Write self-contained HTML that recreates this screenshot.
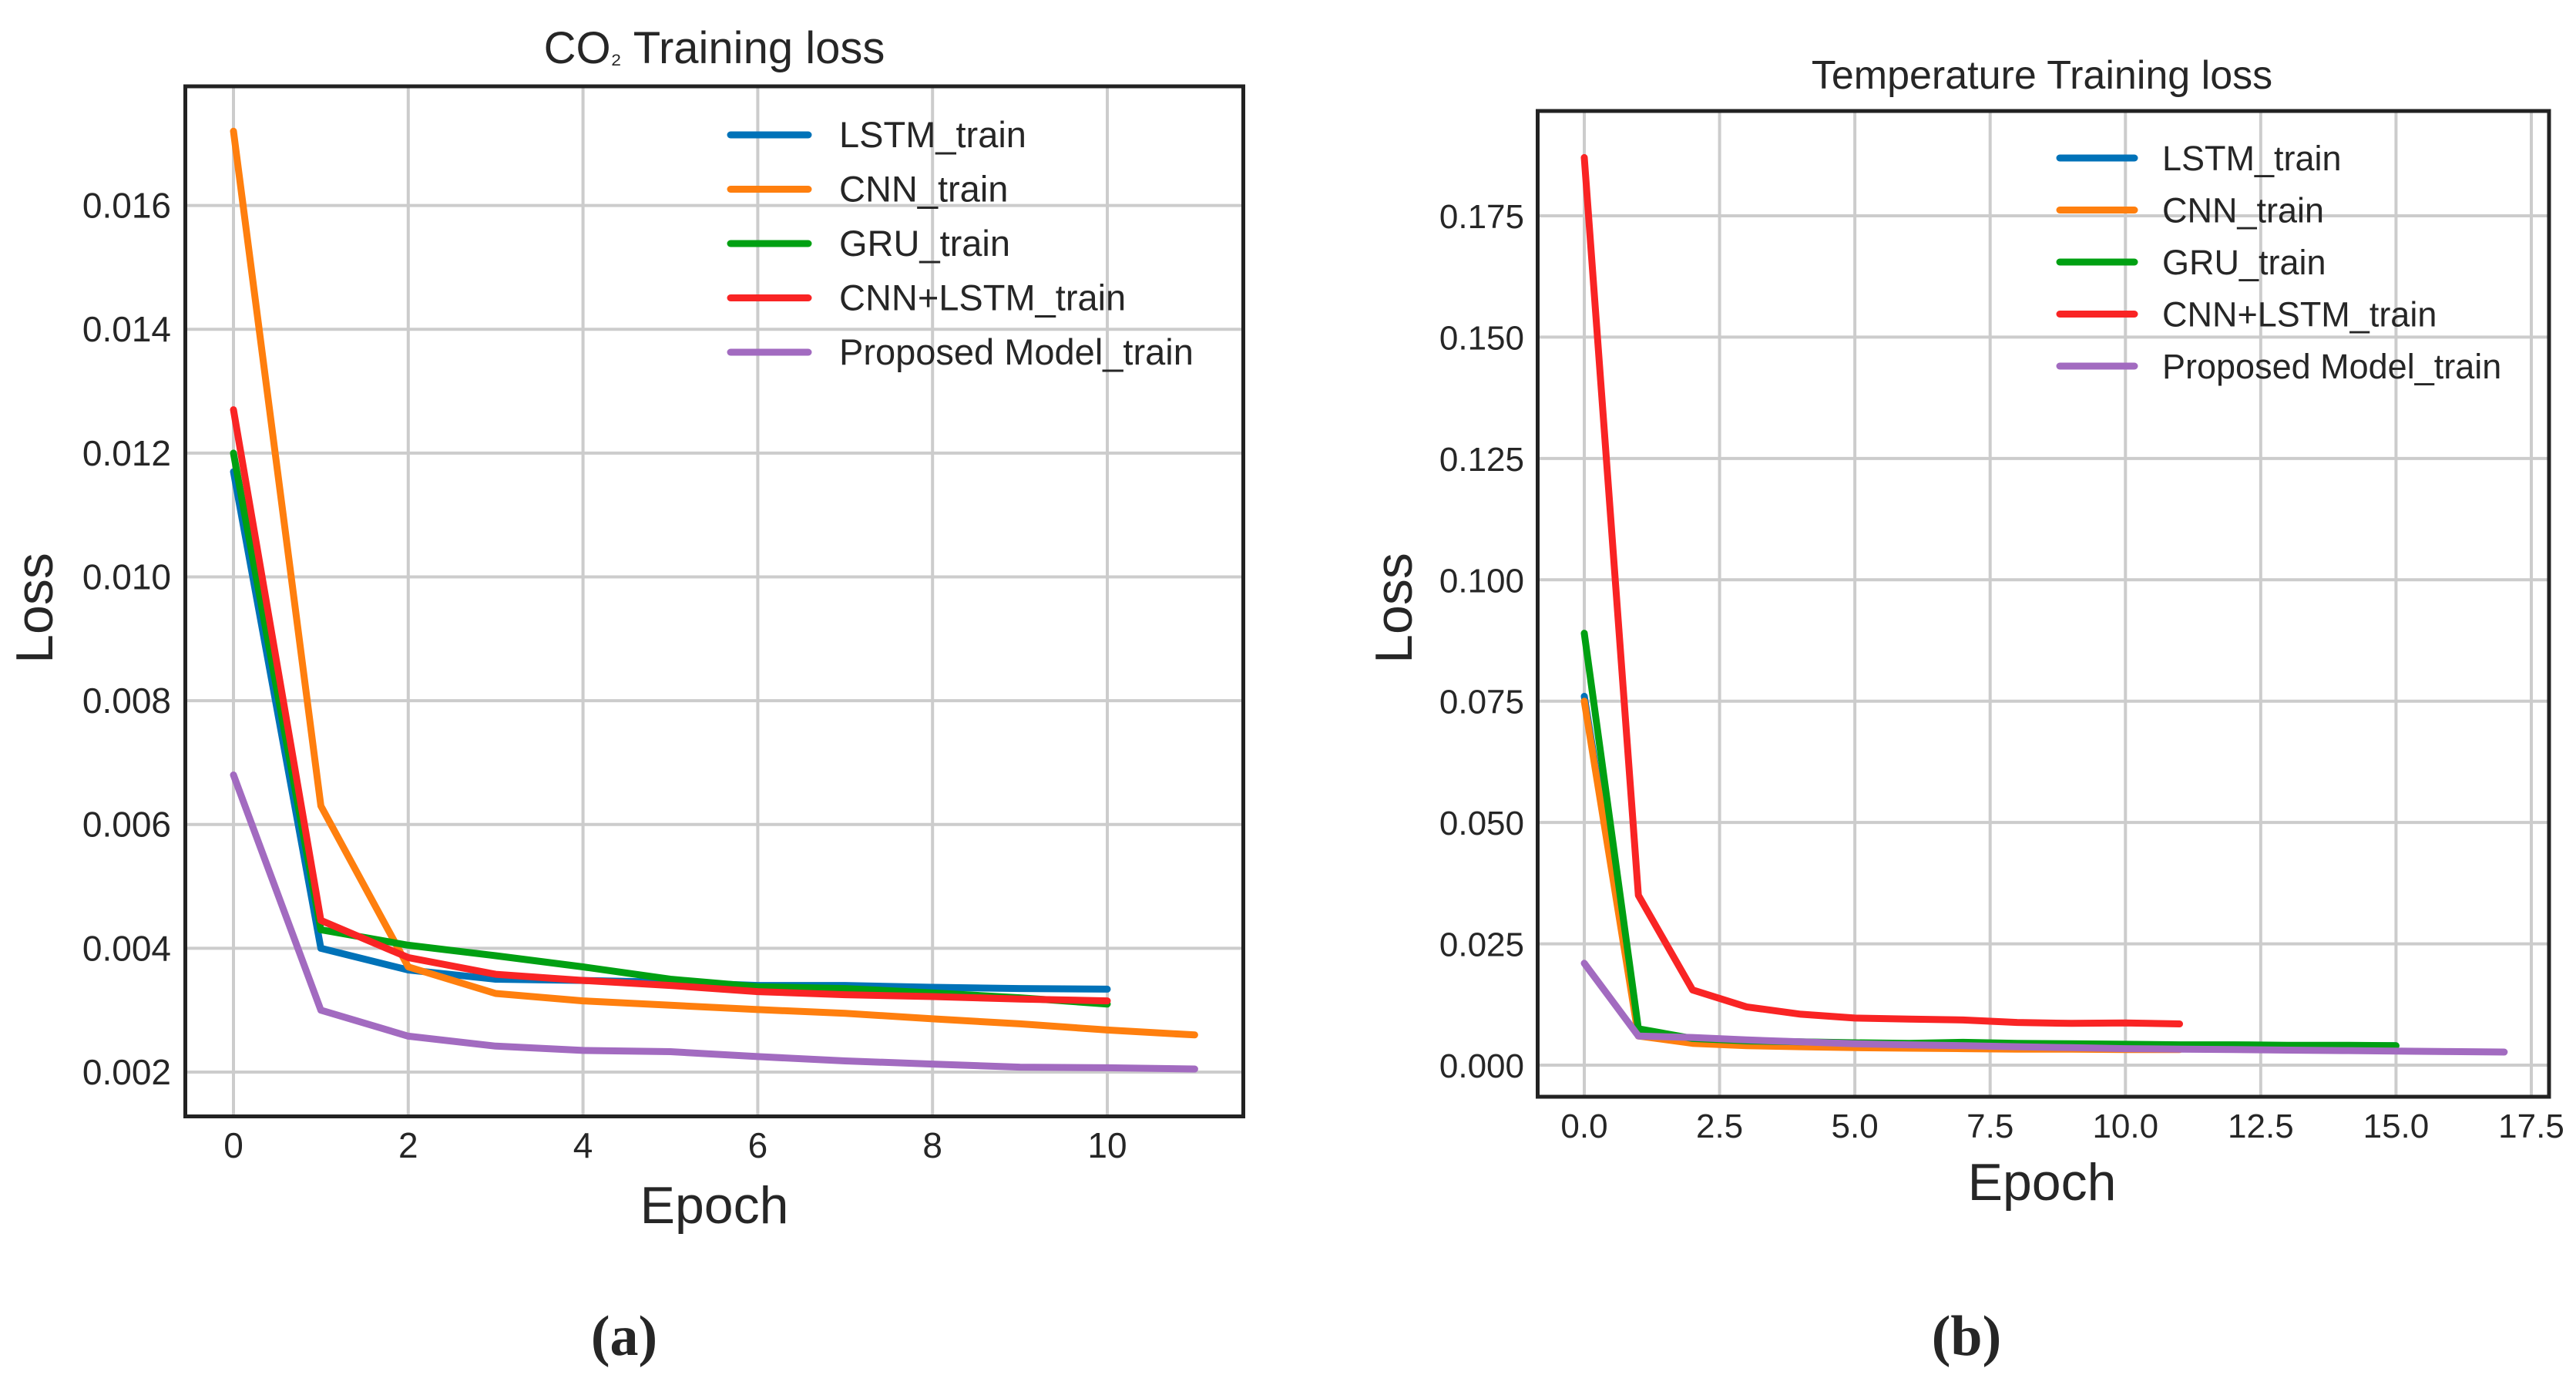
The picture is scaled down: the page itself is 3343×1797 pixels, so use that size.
<!DOCTYPE html>
<html><head><meta charset="utf-8">
<style>
html,body{margin:0;padding:0;background:#fff;}
svg{display:block;}
text{font-family:"Liberation Sans","DejaVu Sans",sans-serif;fill:#262626;}
</style></head>
<body>
<svg id="fig" width="3343" height="1797" viewBox="0 0 3343 1797" xmlns="http://www.w3.org/2000/svg">
<rect x="0" y="0" width="3343" height="1797" fill="#fff"/>
</svg>
<script>
// ---- Chart A data (CO2) ----
const aLSTM = [0.0117,0.0040,0.00365,0.0035,0.00348,0.00345,0.0034,0.0034,0.00337,0.00335,0.00334];
const aCNN = [0.0172,0.0063,0.0037,0.00327,0.00315,0.00308,0.00301,0.00295,0.00286,0.00278,0.00268,0.0026];
const aGRU = [0.0120,0.0043,0.00405,0.00388,0.0037,0.0035,0.00338,0.00335,0.00328,0.0032,0.0031];
const aCNNLSTM = [0.0127,0.00445,0.00385,0.00358,0.00348,0.0034,0.0033,0.00325,0.00322,0.00318,0.00315];
const aProposed = [0.0068,0.0030,0.00258,0.00242,0.00235,0.00233,0.00225,0.00218,0.00213,0.00208,0.00207,0.00205];
const aXTicks = [0,2,4,6,8,10];
const aYTicks = [0.002,0.004,0.006,0.008,0.010,0.012,0.014,0.016];
const aYTickLabels = ["0.002","0.004","0.006","0.008","0.010","0.012","0.014","0.016"];
// ---- Chart B data (Temperature) ----
const bLSTM = [0.076,0.0065,0.005,0.0048,0.0046,0.0045,0.0044,0.0045,0.0043,0.0042,0.0041,0.0041,0.004,0.004,0.004,0.004];
const bCNN = [0.075,0.006,0.0045,0.004,0.0038,0.0036,0.0035,0.0034,0.0033,0.0033,0.0032,0.0032];
const bGRU = [0.089,0.0075,0.0055,0.005,0.0048,0.0046,0.0045,0.0047,0.0045,0.0044,0.0043,0.0042,0.0042,0.0041,0.0041,0.004];
const bCNNLSTM = [0.187,0.035,0.0155,0.012,0.0105,0.0097,0.0095,0.0093,0.0088,0.0086,0.0087,0.0085];
const bProposed = [0.021,0.006,0.0057,0.0052,0.0048,0.0044,0.0042,0.004,0.0038,0.0036,0.0034,0.0033,0.0032,0.0031,0.003,0.0029,0.0028,0.0027];
const bXTicks = [0,2.5,5,7.5,10,12.5,15,17.5];
const bXTickLabels = ["0.0","2.5","5.0","7.5","10.0","12.5","15.0","17.5"];
const bYTicks = [0,0.025,0.05,0.075,0.1,0.125,0.15,0.175];
const bYTickLabels = ["0.000","0.025","0.050","0.075","0.100","0.125","0.150","0.175"];
const seriesNames = ["LSTM_train","CNN_train","GRU_train","CNN+LSTM_train","Proposed Model_train"];
const seriesColors = ["#0072b8","#ff7f0e","#00a012","#f92424","#a26bc0"];

const NS="http://www.w3.org/2000/svg";
const svg=document.getElementById('fig');
function mk(tag,attrs,parent){const e=document.createElementNS(NS,tag);for(const k in attrs)e.setAttribute(k,attrs[k]);(parent||svg).appendChild(e);return e;}

function drawChart(cfg){
  const g=mk('g',{});
  
  
  const sx=v=>cfg.x0+(v-cfg.xv0)*(cfg.x1-cfg.x0)/(cfg.xv1-cfg.xv0);
  const sy=v=>cfg.y0+(v-cfg.yv0)*(cfg.y1-cfg.y0)/(cfg.yv1-cfg.yv0);
  cfg.xTicks.forEach((t,i)=>{
    const l=mk('line',{x1:sx(t),x2:sx(t),y1:cfg.box[1],y2:cfg.box[3],stroke:'#cccccc','stroke-width':4},g);
    
    
    const tx=mk('text',{x:sx(t),y:cfg.xLabY,'font-size':cfg.tickFs,'text-anchor':'middle'},g);
    tx.textContent=cfg.xTickLabels[i];
    
    
  });
  cfg.yTicks.forEach((t,i)=>{
    const l=mk('line',{x1:cfg.box[0],x2:cfg.box[2],y1:sy(t),y2:sy(t),stroke:'#cccccc','stroke-width':4},g);
    
    
    const tx=mk('text',{x:cfg.yLabX,y:sy(t)+16,'font-size':cfg.tickFs,'text-anchor':'end'},g);
    tx.textContent=cfg.yTickLabels[i];
    
    
  });
  cfg.series.forEach((s,si)=>{
    const pts=s.map((v,i)=>sx(i).toFixed(1)+','+sy(v).toFixed(1)).join(' ');
    const p=mk('polyline',{points:pts,fill:'none',stroke:seriesColors[si],'stroke-width':9,'stroke-linejoin':'round','stroke-linecap':'round'},g);
    
    
  });
  const fr=mk('rect',{x:cfg.box[0],y:cfg.box[1],width:cfg.box[2]-cfg.box[0],height:cfg.box[3]-cfg.box[1],fill:'none',stroke:'#222','stroke-width':cfg.frameW},g);
  
  
  const lg=mk('g',{},g);
  
  
  seriesNames.forEach((n,i)=>{
    const y=cfg.legY0+i*cfg.legDy;
    const e=mk('g',{},lg);
    
    
    mk('line',{x1:cfg.legX0,x2:cfg.legX1,y1:y,y2:y,stroke:seriesColors[i],'stroke-width':9,'stroke-linecap':'round'},e);
    const t=mk('text',{x:cfg.legTx,y:y+16,'font-size':cfg.legFs},e);
    t.textContent=n;
  });
  const ti=mk('text',{x:cfg.titleX,y:cfg.titleY,'font-size':cfg.titleFs,'text-anchor':'middle'},g);
  ti.innerHTML=cfg.title;
  
  
  const xl=mk('text',{x:cfg.xTitleX,y:cfg.xTitleY,'font-size':68,'text-anchor':'middle'},g);
  xl.textContent='Epoch';
  
  
  const yl=mk('text',{x:0,y:0,'font-size':68,'text-anchor':'middle',transform:`translate(${cfg.yTitleX},${cfg.yTitleY}) rotate(-90)`},g);
  yl.textContent='Loss';
  
  
  const cap=mk('text',{x:cfg.capX,y:1758,'font-size':74,'font-weight':'bold','text-anchor':'middle',style:'font-family:"Liberation Serif",serif'},g);
  cap.textContent=cfg.cap;
  
  
}

drawChart({id:'co2-training-loss-chart',box:[240.5,112,1613.5,1448.5],frameW:5,
  x0:303,x1:1437,xv0:0,xv1:10,y0:1391,y1:266.6,yv0:0.002,yv1:0.016,
  xTicks:aXTicks,xTickLabels:aXTicks.map(String),yTicks:aYTicks,yTickLabels:aYTickLabels,
  xLabY:1502,yLabX:222,tickFs:46,
  series:[aLSTM,aCNN,aGRU,aCNNLSTM,aProposed],
  legX0:948,legX1:1049,legTx:1089,legY0:175,legDy:70.5,legFs:47,
  title:'CO<tspan font-size="36">₂</tspan> Training loss',titleX:927,titleY:82,titleFs:58,
  xTitleX:927,xTitleY:1587,yTitleX:68,yTitleY:789,capX:810,cap:'(a)'});

drawChart({id:'temperature-training-loss-chart',box:[1995.5,144,3308,1423],frameW:5,
  x0:2056,x1:3285,xv0:0,xv1:17.5,y0:1382,y1:280,yv0:0,yv1:0.175,
  xTicks:bXTicks,xTickLabels:bXTickLabels,yTicks:bYTicks,yTickLabels:bYTickLabels,
  xLabY:1476,yLabX:1978,tickFs:44,
  series:[bLSTM,bCNN,bGRU,bCNNLSTM,bProposed],
  legX0:2673,legX1:2770,legTx:2806,legY0:205,legDy:67.5,legFs:45,
  title:'Temperature Training loss',titleX:2650,titleY:115,titleFs:52,
  xTitleX:2650,xTitleY:1557,yTitleX:1832,yTitleY:789,capX:2552,cap:'(b)'});
</script>
</body></html>
